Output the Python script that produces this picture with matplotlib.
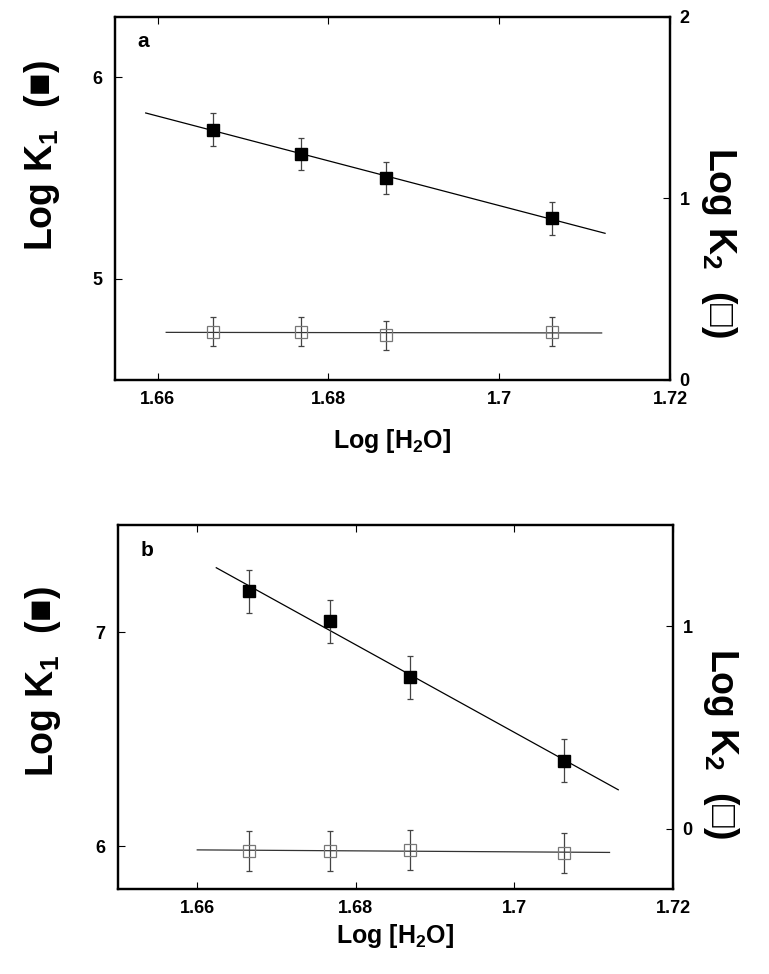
import numpy as np
import matplotlib
matplotlib.use('Agg')
import matplotlib.pyplot as plt
from matplotlib.ticker import FormatStrFormatter

plt.rcParams['font.family'] = ['Liberation Sans', 'DejaVu Sans']
plt.rcParams['font.weight'] = 'bold'
plt.rcParams['axes.labelweight'] = 'bold'
plt.rcParams['mathtext.fontset'] = 'custom'
plt.rcParams['mathtext.rm'] = 'Liberation Sans:bold'
plt.rcParams['mathtext.bf'] = 'Liberation Sans:bold'
plt.rcParams['mathtext.default'] = 'rm'

# x values (log water concentration), same for both panels
log_h2o = [1.6665, 1.6768, 1.6868, 1.7062]

# panel a
logk1_a = [5.74, 5.62, 5.50, 5.30]
logk1_a_err = [0.08, 0.08, 0.08, 0.08]
logk2_a = [0.265, 0.265, 0.245, 0.265]
logk2_a_err = [0.08, 0.08, 0.08, 0.08]
fit1_a_range = [1.6586, 1.7124]
fit2_a_range = [1.661, 1.712]

# panel b
logk1_b = [7.19, 7.05, 6.79, 6.40]
logk1_b_err = [0.10, 0.10, 0.10, 0.10]
logk2_b = [-0.11, -0.11, -0.105, -0.12]
logk2_b_err = [0.10, 0.10, 0.10, 0.10]
fit1_b_range = [1.6624, 1.7131]
fit2_b_range = [1.660, 1.712]

xticks = [1.66, 1.68, 1.7, 1.72]

fig = plt.figure(figsize=(7.69, 9.74), dpi=100)


def panel(rect, letter, y1, e1, y2, e2, r1, r2, xlim, ylim1, ylim2, yt1, yt2,
          ylab1_pos, ylab2_pos, xpad):
    ax = fig.add_axes(rect)
    ax2 = ax.twinx()

    # filled squares, left axis
    ax.errorbar(log_h2o, y1, yerr=e1, fmt='s', color='black', ms=9,
                ecolor='#444444', elinewidth=0.9, capsize=2.3, capthick=0.9,
                zorder=3)
    p = np.polyfit(log_h2o, y1, 1)
    xf = np.array(r1)
    ax.plot(xf, np.polyval(p, xf), color='black', lw=0.9)

    # open squares, right axis
    ax2.errorbar(log_h2o, y2, yerr=e2, fmt='s', mfc='none', mec='#777777',
                 mew=0.9, ms=9, ecolor='#444444', elinewidth=0.9,
                 capsize=2.3, capthick=0.9, zorder=3)
    p2 = np.polyfit(log_h2o, y2, 1)
    xf2 = np.array(r2)
    ax2.plot(xf2, np.polyval(p2, xf2), color='#333333', lw=0.9)

    ax.set_xlim(xlim)
    ax.set_ylim(ylim1)
    ax2.set_ylim(ylim2)
    ax.set_xticks(xticks)
    ax.xaxis.set_major_formatter(FormatStrFormatter('%g'))
    ax.set_yticks(yt1)
    ax2.set_yticks(yt2)

    ax.tick_params(direction='in', top=True, right=False, length=5,
                   width=0.8, labelsize=13)
    ax.tick_params(axis='x', pad=8)
    ax.tick_params(axis='y', pad=9)
    ax2.tick_params(direction='in', length=5, width=0.8, labelsize=13, pad=7)
    for a in (ax, ax2):
        for s in a.spines.values():
            s.set_linewidth(1.6)

    ax.set_xlabel('Log [H$_2$O]', fontsize=18, labelpad=xpad)
    ax.set_ylabel('Log K$_1$  (\u25A0)', fontsize=27)
    ax.yaxis.set_label_coords(*ylab1_pos)
    ax2.set_ylabel('Log K$_2$  (\u25A1)', fontsize=27, rotation=270,
                   va='bottom')
    ax2.yaxis.set_label_coords(*ylab2_pos)

    ax.text(0.04, 0.93, letter, transform=ax.transAxes, fontsize=15,
            fontweight='bold', va='center')
    return ax


panel([0.1495, 0.610, 0.7217, 0.373], 'a', logk1_a, logk1_a_err, logk2_a,
      logk2_a_err, fit1_a_range, fit2_a_range, (1.655, 1.72), (4.5, 6.3),
      (0, 2), [5, 6], [0, 1, 2], (-0.095, 0.617), (1.052, 0.377), 14)

panel([0.1534, 0.087, 0.7217, 0.374], 'b', logk1_b, logk1_b_err, logk2_b,
      logk2_b_err, fit1_b_range, fit2_b_range, (1.65, 1.72), (5.8, 7.5),
      (-0.3, 1.5), [6, 7], [0, 1], (-0.099, 0.571), (1.050, 0.40), 3)

fig.savefig('out.png', dpi=100)
